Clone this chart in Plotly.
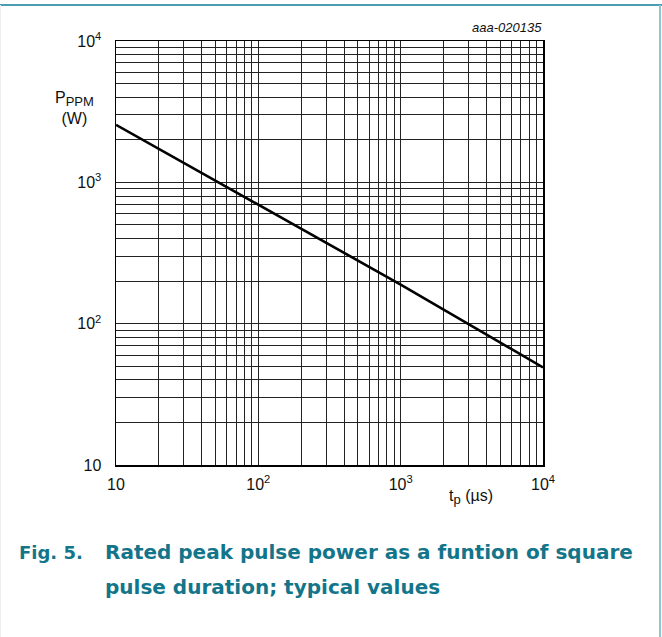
import plotly.graph_objects as go

# Data
tp_us = [10, 100, 1000, 10000]
p_ppm_w = [2550, 690, 189, 49]

major_vals = [10, 100, 1000, 10000]
major_text = ["10", "10<sup>2</sup>", "10<sup>3</sup>", "10<sup>4</sup>"]
minor_vals = [dec * m for dec in [10, 100, 1000] for m in range(2, 10)]

W, H = 662, 637
L, R, T, B = 116, 543, 41, 465  # plot area pixel bounds


def px(x):
    return (x - L) / (R - L)


def py(y):
    return (B - y) / (B - T)


fig = go.Figure()
fig.add_trace(go.Scatter(x=tp_us, y=p_ppm_w, mode="lines",
                         line=dict(color="black", width=2.6), showlegend=False,
                         hoverinfo="skip"))

font = "Liberation Sans, Arial, sans-serif"
axis_common = dict(type="log", range=[1, 4], tickvals=major_vals, ticktext=major_text,
                   showgrid=True, gridcolor="#222222", gridwidth=1,
                   minor=dict(tickvals=minor_vals, showgrid=True, gridcolor="#222222",
                              gridwidth=1, ticks=""),
                   showline=True, linecolor="black", linewidth=1.5, mirror=True,
                   ticks="", zeroline=False, fixedrange=True,
                   tickfont=dict(family=font, size=16, color="#111111"))

fig.update_xaxes(**axis_common, ticklabelstandoff=4)
fig.update_yaxes(**axis_common, ticklabelstandoff=10)

ann = []
ann.append(dict(text="P<sub><span style='font-size:13px'>PPM</span></sub><br>(W)", x=px(74), y=py(108),
                xref="paper", yref="paper", xanchor="center", yanchor="middle",
                showarrow=False, font=dict(family=font, size=16, color="#111111"), align="center"))
ann.append(dict(text="t<sub><span style='font-size:13px'>p</span></sub> (µs)", x=px(471), y=py(497),
                xref="paper", yref="paper", xanchor="center", yanchor="middle",
                showarrow=False, font=dict(family=font, size=16, color="#111111")))
ann.append(dict(text="<i>aaa-020135</i>", x=px(544), y=py(27), xref="paper", yref="paper",
                xanchor="right", yanchor="middle", showarrow=False,
                font=dict(family=font, size=13, color="#111111")))
cap_color = "#13758a"
cap_font = dict(family="DejaVu Sans, sans-serif", size=20, color=cap_color)
ann.append(dict(text="<b>Fig. 5.</b>", x=px(17), y=py(552), xref="paper", yref="paper",
                xanchor="left", yanchor="middle", showarrow=False,
                font=dict(family="DejaVu Sans, sans-serif", size=18, color=cap_color)))
ann.append(dict(text="<b>Rated peak pulse power as a funtion of square</b>", x=px(103), y=py(552),
                xref="paper", yref="paper", xanchor="left", yanchor="middle", showarrow=False,
                font=cap_font))
ann.append(dict(text="<b>pulse duration; typical values</b>", x=px(103), y=py(587),
                xref="paper", yref="paper", xanchor="left", yanchor="middle", showarrow=False,
                font=cap_font))

shapes = [
    dict(type="line", xref="paper", yref="paper", x0=px(0), x1=px(662), y0=py(5), y1=py(5),
         line=dict(color="#4b9db3", width=2)),
    dict(type="line", xref="paper", yref="paper", x0=px(660), x1=px(660), y0=py(5), y1=py(637),
         line=dict(color="#8cc6d3", width=2)),
    dict(type="line", xref="paper", yref="paper", x0=px(0.5), x1=px(0.5), y0=py(5), y1=py(637),
         line=dict(color="#eeeeee", width=1)),
]

fig.update_layout(width=W, height=H, margin=dict(l=L, r=W - R, t=T, b=H - B, pad=0),
                  paper_bgcolor="white", plot_bgcolor="white",
                  annotations=ann, shapes=shapes, showlegend=False)

fig.write_html("out.html", config={"displayModeBar": False, "staticPlot": True},
               post_script="document.body.style.margin='0';document.body.style.overflow='hidden';")
